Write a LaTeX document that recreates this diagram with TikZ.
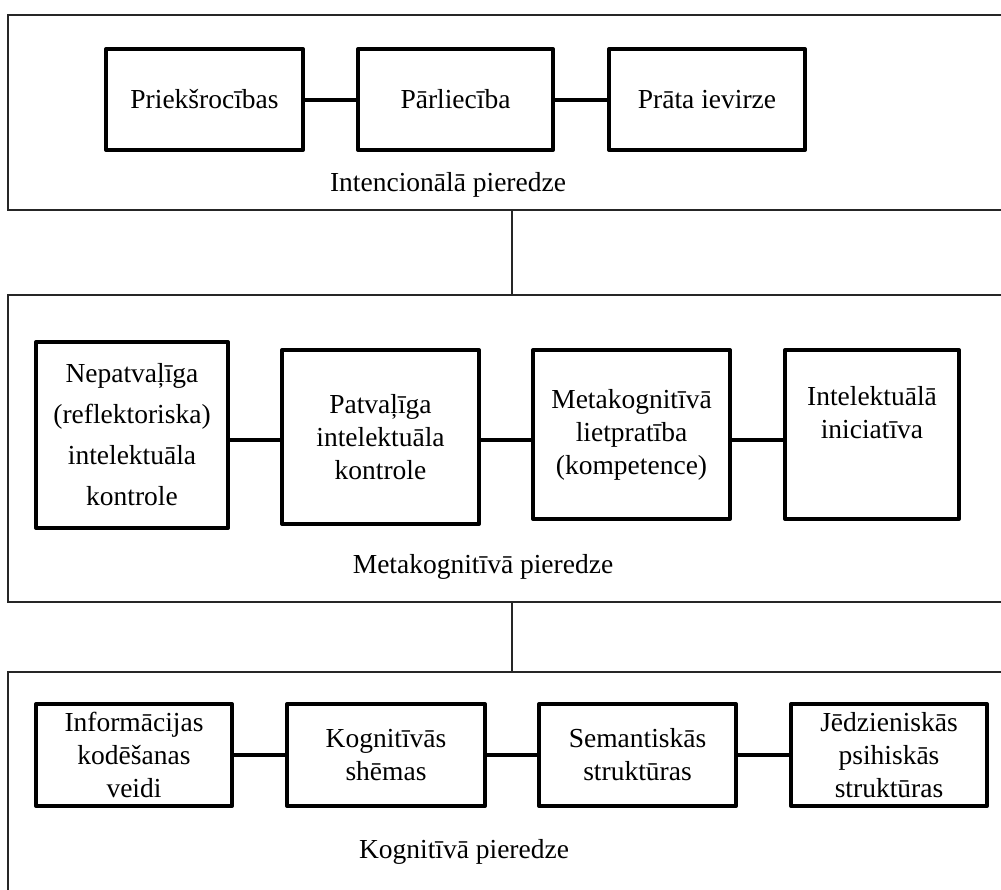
\documentclass[tikz,border=0pt]{standalone}
\usepackage{fontspec}
\setmainfont{Liberation Serif}
\begin{document}
\begin{tikzpicture}[x=1pt,y=-1pt,
  frame/.style={draw=black!85, line width=1.6pt, anchor=north west, inner sep=0pt, outer sep=0pt},
  item/.style={draw, line width=4pt, line join=round, inner sep=0pt, align=center,
               font=\fontsize{27.5}{33}\selectfont},
  link/.style={line width=4pt},
  tie/.style={draw=black!85, line width=1.6pt},
  caption/.style={font=\fontsize{27.5}{33}\selectfont, inner sep=0pt}]

\useasboundingbox (0,0) rectangle (1001,889);
\clip (0,0) rectangle (1001,889);

% three level frames (right and lowest edges run off the page)
\node[frame, minimum width=1008pt, minimum height=195pt] (fa) at (8,15) {};
\node[frame, minimum width=1008pt, minimum height=307pt] (fb) at (8,295) {};
\node[frame, minimum width=1008pt, minimum height=240pt] (fc) at (8,672) {};

\draw[tie] (fa.south) -- (fb.north);
\draw[tie] (fb.north |- fb.south) -- (fc.north);

% intentional level
\node[item, minimum width=197pt, minimum height=101pt] (i1) at (204.5,99.5) {Priekšrocības};
\node[item, minimum width=195pt, minimum height=101pt] (i2) at (455.5,99.5) {Pārliecība};
\node[item, minimum width=196pt, minimum height=101pt] (i3) at (707,99.5) {Prāta ievirze};
\draw[link] (i1) -- (i2);
\draw[link] (i2) -- (i3);
\node[caption] (ca) at (448,185) {Intencionālā pieredze};

% metacognitive level
\node[item, minimum width=192pt, minimum height=186pt, font=\fontsize{27.5}{41}\selectfont] (m1) at (132,435)
  {Nepatvaļīga\\(reflektoriska)\\intelektuāla\\kontrole};
\node[item, minimum width=197pt, minimum height=174pt] (m2) at (380.5,437)
  {Patvaļīga\\intelektuāla\\kontrole};
\node[item, minimum width=197pt, minimum height=169pt] (m3) at (631.5,434.5)
  {Metakognitīvā\\lietpratība\\(kompetence)};
\node[item, minimum width=174pt, minimum height=169pt, text depth=12pt] (m4) at (872,434.5)
  {Intelektuālā\\iniciatīva\\\strut};
\coordinate (mrow) at (0,440);
\draw[link] (m1.east |- mrow) -- (m2.west |- mrow);
\draw[link] (m2.east |- mrow) -- (m3.west |- mrow);
\draw[link] (m3.east |- mrow) -- (m4.west |- mrow);
\node[caption] (cb) at (483,567) {Metakognitīvā pieredze};

% cognitive level
\node[item, minimum width=196pt, minimum height=102pt] (k1) at (134,755)
  {Informācijas\\kodēšanas\\veidi};
\node[item, minimum width=198pt, minimum height=102pt] (k2) at (386,755)
  {Kognitīvās\\shēmas};
\node[item, minimum width=197pt, minimum height=102pt] (k3) at (637.5,755)
  {Semantiskās\\struktūras};
\node[item, minimum width=196pt, minimum height=102pt] (k4) at (889,755)
  {Jēdzieniskās\\psihiskās\\struktūras};
\draw[link] (k1) -- (k2);
\draw[link] (k2) -- (k3);
\draw[link] (k3) -- (k4);
\node[caption] (cc) at (464,852) {Kognitīvā pieredze};
\end{tikzpicture}
\end{document}
